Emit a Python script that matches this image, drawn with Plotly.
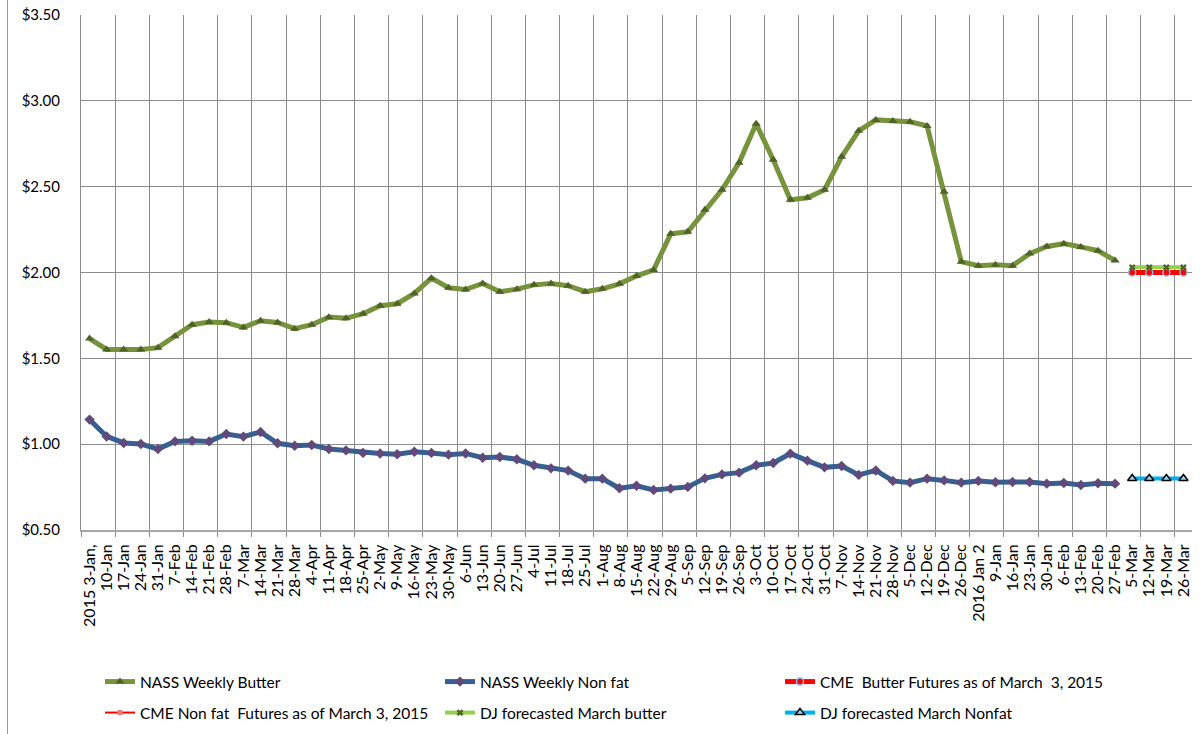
import plotly.graph_objects as go

categories = ["2015 3-Jan,", "10-Jan", "17-Jan", "24-Jan", "31-Jan", "7-Feb", "14-Feb", "21-Feb", "28-Feb",
              "7-Mar", "14-Mar", "21-Mar", "28-Mar", "4-Apr", "11-Apr", "18-Apr", "25-Apr", "2-May", "9-May",
              "16-May", "23-May", "30-May", "6-Jun", "13-Jun", "20-Jun", "27-Jun", "4-Jul", "11-Jul", "18-Jul",
              "25-Jul", "1-Aug", "8-Aug", "15-Aug", "22-Aug", "29-Aug", "5-Sep", "12-Sep", "19-Sep", "26-Sep",
              "3-Oct", "10-Oct", "17-Oct", "24-Oct", "31-Oct", "7-Nov", "14-Nov", "21-Nov", "28-Nov", "5-Dec",
              "12-Dec", "19-Dec", "26-Dec", "2016 Jan 2", "9-Jan", "16-Jan", "23-Jan", "30-Jan", "6-Feb",
              "13-Feb", "20-Feb", "27-Feb", "5-Mar", "12-Mar", "19-Mar", "26-Mar"]

nass_butter = [1.615, 1.552, 1.552, 1.552, 1.562, 1.628, 1.696, 1.711, 1.708, 1.680, 1.719, 1.709, 1.673,
               1.696, 1.740, 1.733, 1.760, 1.806, 1.818, 1.878, 1.967, 1.911, 1.901, 1.936, 1.888, 1.903,
               1.928, 1.936, 1.923, 1.888, 1.905, 1.934, 1.980, 2.015, 2.225, 2.237, 2.365, 2.482, 2.639,
               2.866, 2.657, 2.424, 2.435, 2.482, 2.674, 2.825, 2.889, 2.883, 2.878, 2.854, 2.470, 2.063,
               2.040, 2.045, 2.040, 2.110, 2.152, 2.168, 2.149, 2.127, 2.070]

nass_nonfat = [1.143, 1.045, 1.007, 1.001, 0.972, 1.016, 1.020, 1.016, 1.059, 1.044, 1.071, 1.005, 0.991,
               0.995, 0.972, 0.964, 0.949, 0.946, 0.941, 0.956, 0.949, 0.939, 0.946, 0.921, 0.925, 0.912,
               0.877, 0.859, 0.846, 0.799, 0.799, 0.743, 0.758, 0.733, 0.741, 0.751, 0.801, 0.824, 0.834,
               0.877, 0.890, 0.945, 0.904, 0.865, 0.873, 0.821, 0.847, 0.786, 0.776, 0.799, 0.789, 0.776,
               0.786, 0.778, 0.780, 0.780, 0.770, 0.774, 0.762, 0.772, 0.770]

forecast_weeks = ["5-Mar", "12-Mar", "19-Mar", "26-Mar"]
cme_butter = [2.00, 2.00, 2.00, 2.00]
cme_nonfat = [None, None, None, None]
dj_butter = [2.03, 2.03, 2.03, 2.03]
dj_nonfat = [0.80, 0.80, 0.80, 0.80]

y_ticks = [0.5, 1.0, 1.5, 2.0, 2.5, 3.0, 3.5]

pos = {c: i for i, c in enumerate(categories)}
x_hist = [pos[c] for c in categories[:len(nass_butter)]]
x_fc = [pos[c] for c in forecast_weeks]

FONT = "Lato, 'Liberation Sans', sans-serif"
GRID = "#8c8c8c"

W, H = 1201, 734
L, R, T, B = 81, 9, 15, 203.5
plot_w = W - L - R

fig = go.Figure()
fig.add_trace(go.Scatter(x=x_hist, y=nass_butter, name="NASS Weekly Butter", mode="lines+markers",
                         line=dict(color="#77933C", width=5),
                         marker=dict(symbol="triangle-up", size=8, color="#4F6228"), legend="legend"))
fig.add_trace(go.Scatter(x=x_hist, y=nass_nonfat, name="NASS Weekly Non fat", mode="lines+markers",
                         line=dict(color="#376092", width=5),
                         marker=dict(symbol="diamond", size=8, color="#5F4A7B"), legend="legend"))
fig.add_trace(go.Scatter(x=x_fc, y=cme_butter, name="CME  Butter Futures as of March  3, 2015",
                         mode="lines+markers", line=dict(color="#FF0000", width=5),
                         marker=dict(symbol="circle", size=7, color="#FF0000",
                                     line=dict(color="#8EB4E3", width=1.5)), legend="legend"))
fig.add_trace(go.Scatter(x=x_fc, y=cme_nonfat, name="CME Non fat  Futures as of March 3, 2015",
                         mode="lines+markers", line=dict(color="#FF0000", width=2),
                         marker=dict(symbol="square", size=5, color="#E67C7C"), legend="legend2"))
fig.add_trace(go.Scatter(x=x_fc, y=dj_butter, name="DJ forecasted March butter", mode="lines+markers",
                         line=dict(color="#92D050", width=4),
                         marker=dict(symbol="x", size=6, color="#4F6228"), legend="legend2"))
fig.add_trace(go.Scatter(x=x_fc, y=dj_nonfat, name="DJ forecasted March Nonfat", mode="lines+markers",
                         line=dict(color="#00B0F0", width=4),
                         marker=dict(symbol="triangle-up", size=8, color="#9DD3F0",
                                     line=dict(color="#000000", width=1.5)), legend="legend2"))

legend_common = dict(orientation="h", xref="container", yref="container", xanchor="left",
                     yanchor="middle", entrywidth=295, entrywidthmode="pixels",
                     font=dict(family=FONT, size=15.5, color="#000000"), bgcolor="rgba(0,0,0,0)",
                     traceorder="normal")

fig.update_layout(
    width=W, height=H,
    margin=dict(l=L, r=R, t=T, b=B),
    paper_bgcolor="white", plot_bgcolor="white",
    font=dict(family=FONT, size=14, color="#000000"),
    showlegend=True,
    legend=dict(x=100 / W, y=1 - 682 / H, **legend_common),
    legend2=dict(x=100 / W, y=1 - 713 / H, **legend_common),
    xaxis=dict(
        range=[-0.5, len(categories) - 0.5], automargin=False,
        tickmode="array", tickvals=list(range(len(categories))), ticktext=categories,
        tickangle=-90, showgrid=False, zeroline=False, ticks="",
        showline=True, linecolor="#a6a6a6", linewidth=2,
        ticklabelstandoff=6,
        tickfont=dict(family=FONT, size=16, color="#000000"),
        minor=dict(tickmode="linear", tick0=-0.5, dtick=2, showgrid=True, gridcolor=GRID,
                   gridwidth=1, ticks="outside", ticklen=5, tickcolor=GRID),
    ),
    yaxis=dict(
        range=[0.5, 3.5], automargin=False, tickmode="array", tickvals=y_ticks, tickformat="$.2f",
        showgrid=True, gridcolor=GRID, gridwidth=1, zeroline=False,
        showline=True, linecolor=GRID, linewidth=1, ticks="",
        ticklabelstandoff=17,
        tickfont=dict(family=FONT, size=15, color="#000000"),
    ),
    shapes=[dict(type="line", xref="paper", yref="paper", x0=(7.5 - L) / plot_w, x1=(7.5 - L) / plot_w,
                 y0=-1, y1=1.1, line=dict(color="#9a9a9a", width=1))],
)

fig.write_html("out.html", config={"displayModeBar": False},
               post_script="document.body.style.margin='0px';document.body.style.overflow='hidden';")
